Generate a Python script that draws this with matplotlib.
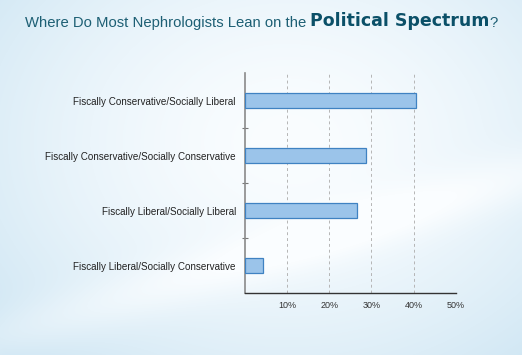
import numpy as np
import matplotlib
matplotlib.use("Agg")
import matplotlib.pyplot as plt

# data
categories = [
    "Fiscally Conservative/Socially Liberal",
    "Fiscally Conservative/Socially Conservative",
    "Fiscally Liberal/Socially Liberal",
    "Fiscally Liberal/Socially Conservative",
]
shares = [40.5, 28.8, 26.7, 4.2]
x_ticks = [10, 20, 30, 40, 50]
x_tick_labels = ["10%", "20%", "30%", "40%", "50%"]

TITLE_COLOR = "#1d5f74"
BOLD_COLOR = "#0b5068"
FONT = ["Liberation Sans", "DejaVu Sans"]

fig = plt.figure(figsize=(5.22, 3.55), dpi=100)

# soft blue background with a pale centre
bg = fig.add_axes([0, 0, 1, 1], zorder=-10)
yy, xx = np.mgrid[0:1:355j, 0:1:522j]
d = np.sqrt(((xx - 0.55) / 0.75) ** 2 + ((yy - 0.40) / 0.85) ** 2)
t = np.clip(d, 0, 1) ** 1.6
# pale swoosh in the lower left
streak = np.exp(-((yy - (0.95 - 0.45 * xx)) / 0.08) ** 2) * 0.3
t = np.clip(t - streak, 0, 1)
edge = np.array([205, 229, 243]) / 255
centre = np.array([250, 253, 255]) / 255
img = centre[None, None, :] * (1 - t[..., None]) + edge[None, None, :] * t[..., None]
bg.imshow(img, aspect="auto", extent=[0, 1, 0, 1], origin="upper")
bg.axis("off")

ax = fig.add_axes([0.4693, 0.1746, 0.4036, 0.6197])
ax.patch.set_alpha(0)

y = np.arange(len(categories))
ax.barh(y, shares, height=0.28, color="#9bc4ea", edgecolor="#3f82c2",
        linewidth=0.9, zorder=3)

ax.set_xlim(0, 50)
ax.set_ylim(len(categories) - 0.5, -0.5)

ax.set_xticks(x_ticks)
ax.set_xticklabels(x_tick_labels, fontsize=6.5, family=FONT, color="#333333")
ax.tick_params(axis="x", length=0, pad=6)

ax.set_yticks(y)
ax.set_yticklabels(categories, fontsize=7.1, family=FONT, color="#222222")
ax.tick_params(axis="y", which="major", length=0, pad=6.5)
ax.set_yticks([0.5, 1.5, 2.5], minor=True)
ax.tick_params(axis="y", which="minor", length=5, direction="inout",
               color="#777777", width=0.8)

ax.grid(axis="x", linestyle=(0, (3, 3)), color="#b5b5b5", linewidth=0.7, zorder=0)
for s in ["top", "right"]:
    ax.spines[s].set_visible(False)
ax.spines["left"].set_color("#8a8a8a")
ax.spines["left"].set_linewidth(1.2)
ax.spines["bottom"].set_color("#333333")
ax.spines["bottom"].set_linewidth(1.0)

# title: regular part + bold part + question mark
t1 = fig.text(25 / 522, 1 - 27 / 355, "Where Do Most Nephrologists Lean on the ",
              fontsize=10.7, family=FONT, color=TITLE_COLOR, va="baseline")
t2 = bg.annotate("Political Spectrum", xy=(1, 0), xycoords=t1, va="bottom",
                 fontsize=12.5, fontweight="bold", family="DejaVu Sans",
                 color=BOLD_COLOR, annotation_clip=False)
bg.annotate("?", xy=(1, 0), xycoords=t2, va="bottom", fontsize=10.7,
            family=FONT, color=TITLE_COLOR, annotation_clip=False)

fig.savefig("out.png", dpi=100)
